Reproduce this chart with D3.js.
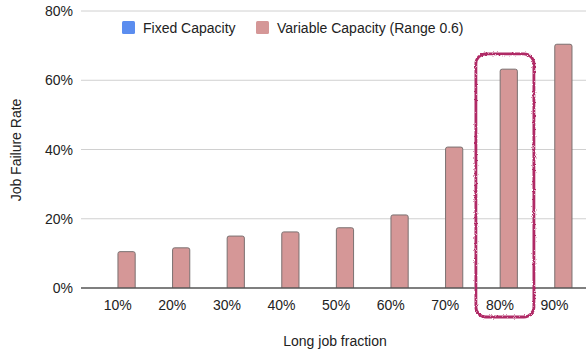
<!DOCTYPE html>
<html>
<head>
<meta charset="utf-8">
<script src="https://cdn.jsdelivr.net/npm/d3@7"></script>
<style>
  body { margin: 0; background: #fff; }
  text { font-family: "Liberation Sans", Arial, sans-serif; fill: #222; }
</style>
</head>
<body>
<div id="chart"></div>
<script>
var categories = ["10%", "20%", "30%", "40%", "50%", "60%", "70%", "80%", "90%"];
var seriesNames = ["Fixed Capacity", "Variable Capacity (Range 0.6)"];
var fixedValues = [null, null, null, null, null, null, null, null, null];
var variableValues = [10.5, 11.6, 15.0, 16.2, 17.4, 21.1, 40.7, 63.2, 70.4];
var yTicks = [0, 20, 40, 60, 80];
var highlighted = "80%";

var colors = ["#5b8def", "#d59797"];

var width = 586, height = 356;
var svg = d3.select("#chart").append("svg")
  .attr("width", width).attr("height", height);

var plotLeft = 81, plotRight = 600, plotTop = 11, plotBottom = 288;

var x0 = d3.scaleBand().domain(categories).range([90.4, 581.8]).padding(0);
var x1 = d3.scaleBand().domain(seriesNames)
  .range([x0.bandwidth() * 0.18, x0.bandwidth() * 0.82]).paddingInner(0.03);
var y = d3.scaleLinear().domain([0, 80]).range([plotBottom, plotTop]);

// grid
svg.append("g").selectAll("line").data(yTicks.slice(1)).enter().append("line")
  .attr("x1", plotLeft).attr("x2", plotRight)
  .attr("y1", function(d) { return y(d); }).attr("y2", function(d) { return y(d); })
  .attr("stroke", "#d0d0d0").attr("stroke-width", 1);

// y labels
svg.append("g").selectAll("text").data(yTicks).enter().append("text")
  .attr("x", 73).attr("y", function(d) { return y(d) + 5; })
  .attr("text-anchor", "end").style("font-size", "14px")
  .text(function(d) { return d + "%"; });

// bars
var rows = categories.map(function(c, i) {
  return [{c: c, s: seriesNames[0], v: fixedValues[i]}, {c: c, s: seriesNames[1], v: variableValues[i]}];
});
svg.append("g").selectAll("g").data(rows).enter().append("g")
  .attr("transform", function(d) { return "translate(" + x0(d[0].c) + ",0)"; })
  .selectAll("path").data(function(d) { return d.filter(function(e) { return e.v != null; }); })
  .enter().append("path")
  .attr("d", function(d) {
    var x = x1(d.s), w = x1.bandwidth(), yt = y(d.v), yb = y(0), r = 2;
    return "M" + x + "," + yb + "V" + (yt + r) + "Q" + x + "," + yt + " " + (x + r) + "," + yt +
      "H" + (x + w - r) + "Q" + (x + w) + "," + yt + " " + (x + w) + "," + (yt + r) + "V" + yb;
  })
  .attr("fill", function(d) { return colors[seriesNames.indexOf(d.s)]; })
  .attr("stroke", "#7a7070").attr("stroke-width", 1);

// baseline
svg.append("line").attr("x1", plotLeft).attr("x2", plotRight)
  .attr("y1", y(0)).attr("y2", y(0)).attr("stroke", "#555").attr("stroke-width", 1.3);

// x labels
svg.append("g").selectAll("text").data(categories).enter().append("text")
  .attr("x", function(d) { return x0(d) + x0.bandwidth() / 2; })
  .attr("y", 310).attr("text-anchor", "middle").style("font-size", "14px")
  .text(function(d) { return d; });

// axis titles
svg.append("text").attr("x", 335).attr("y", 346).attr("text-anchor", "middle")
  .style("font-size", "14px").text("Long job fraction");
svg.append("text").attr("transform", "translate(21,150) rotate(-90)")
  .attr("text-anchor", "middle").style("font-size", "14px").text("Job Failure Rate");

// legend
var legendX = [122, 256];
var lg = svg.append("g").selectAll("g").data(seriesNames).enter().append("g")
  .attr("transform", function(d, i) { return "translate(" + legendX[i] + ",21)"; });
lg.append("rect").attr("width", 13).attr("height", 13).attr("rx", 1.5)
  .attr("fill", function(d, i) { return colors[i]; });
lg.append("text").attr("x", 21).attr("y", 12).style("font-size", "14px")
  .text(function(d) { return d; });

// hand-drawn highlight
var defs = svg.append("defs");
var f = defs.append("filter").attr("id", "rough").attr("x", "-10%").attr("y", "-10%")
  .attr("width", "120%").attr("height", "120%");
f.append("feTurbulence").attr("type", "fractalNoise").attr("baseFrequency", 0.9)
  .attr("numOctaves", 2).attr("seed", 3).attr("result", "n");
f.append("feDisplacementMap").attr("in", "SourceGraphic").attr("in2", "n")
  .attr("scale", 2.6).attr("xChannelSelector", "R").attr("yChannelSelector", "G");
var hx = x0(highlighted) + x0.bandwidth() / 2;
svg.append("rect")
  .attr("x", hx - 24).attr("y", y(67.6))
  .attr("width", 58).attr("height", 317 - y(67.6))
  .attr("rx", 10).attr("ry", 10)
  .attr("fill", "none").attr("stroke", "#b02a66").attr("stroke-width", 2.8)
  .attr("filter", "url(#rough)");
</script>
</body>
</html>
